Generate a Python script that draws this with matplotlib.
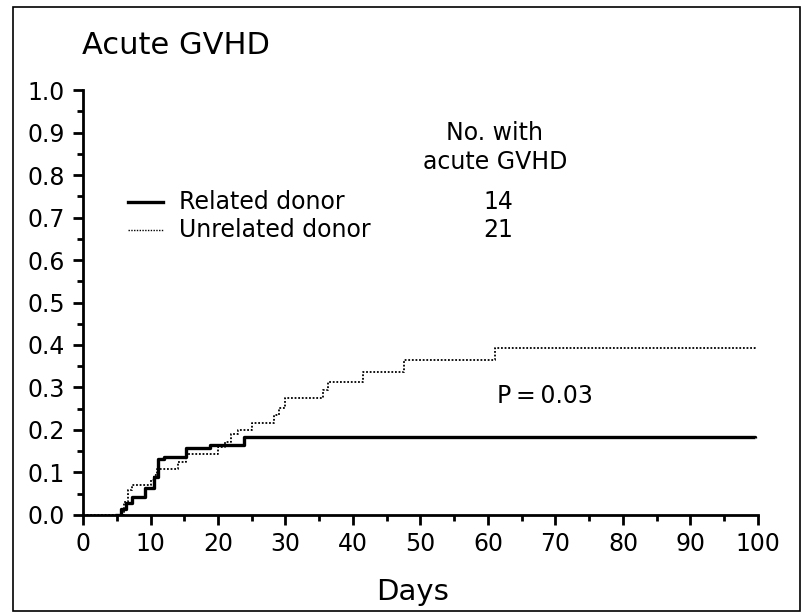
import numpy as np
import matplotlib.pyplot as plt
from matplotlib.patches import Rectangle
from matplotlib.ticker import MultipleLocator

plt.rcParams['font.family'] = 'DejaVu Sans'

# cumulative incidence of acute GVHD (step curves)
rel_days = [4.8, 5.6, 6.3, 7.3, 9.2, 10.5, 11.1, 12.0, 15.3, 18.8, 23.8, 99.5]
rel_vals = [0.0, 0.015, 0.027, 0.042, 0.063, 0.09, 0.131, 0.137, 0.157, 0.165, 0.183, 0.181]

unr_days = [0, 6.0, 6.6, 7.2, 10.0, 10.5, 11.0, 14.0, 15.2, 20.0, 21.0, 22.0, 23.0,
            25.0, 28.3, 29.0, 30.0, 35.5, 36.3, 41.5, 47.5, 61.0, 99.5]
unr_vals = [0, 0.03, 0.059, 0.07, 0.082, 0.095, 0.108, 0.125, 0.143, 0.161, 0.172, 0.19, 0.2,
            0.216, 0.235, 0.251, 0.275, 0.295, 0.312, 0.337, 0.365, 0.392, 0.39]

groups = ['Related donor', 'Unrelated donor']
n_gvhd = [14, 21]

fig = plt.figure(figsize=(8.02, 6.13), dpi=100)
ax = fig.add_axes([0.1035, 0.16, 0.8416, 0.693])

ax.plot(rel_days, rel_vals, drawstyle='steps-post', color='black', lw=2.4, solid_capstyle='butt')
ax.plot(unr_days, unr_vals, drawstyle='steps-post', color='black', lw=1.3, ls=(0, (1, 1)))

# legend drawn by hand, like the original
fs = 17
for i, (g, n) in enumerate(zip(groups, n_gvhd)):
    yy = 0.736 - i * 0.066
    if i == 0:
        ax.plot([6.7, 11.9], [yy, yy], color='black', lw=2.4)
    else:
        ax.plot([6.7, 11.9], [yy, yy], color='black', lw=1.0, ls=(0, (1, 1)))
    ax.text(14.2, yy, g, fontsize=fs, va='center', ha='left')
    ax.text(61.5, yy, str(n), fontsize=fs, va='center', ha='center')
ax.text(61, 0.90, 'No. with', fontsize=fs, va='center', ha='center')
ax.text(61, 0.83, 'acute GVHD', fontsize=fs, va='center', ha='center')
ax.text(68.5, 0.28, 'P\u2009=\u20090.03', fontsize=fs, va='center', ha='center')

ax.set_xlim(0, 100)
ax.set_ylim(0, 1.0)
ax.xaxis.set_major_locator(MultipleLocator(10))
ax.xaxis.set_minor_locator(MultipleLocator(5))
ax.yaxis.set_major_locator(MultipleLocator(0.1))
ax.yaxis.set_minor_locator(MultipleLocator(0.05))
ax.yaxis.set_major_formatter(plt.FormatStrFormatter('%.1f'))
ax.tick_params(which='major', length=7, width=2, labelsize=17)
ax.tick_params(axis='x', which='major', pad=5)
ax.tick_params(axis='y', which='major', pad=6)
ax.tick_params(which='minor', length=4, width=2)
for s in ['top', 'right']:
    ax.spines[s].set_visible(False)
for s in ['left', 'bottom']:
    ax.spines[s].set_linewidth(2)

fig.text(82 / 802, 1 - 45 / 613, 'Acute GVHD', fontsize=22, va='center', ha='left')
fig.text(413 / 802, 1 - 592 / 613, 'Days', fontsize=21, va='center', ha='center')

fig.patches.append(Rectangle((13 / 802, 2 / 613), 787 / 802, 604 / 613, transform=fig.transFigure,
                             fill=False, edgecolor='black', lw=1.2))

fig.savefig('out.png', dpi=100)
